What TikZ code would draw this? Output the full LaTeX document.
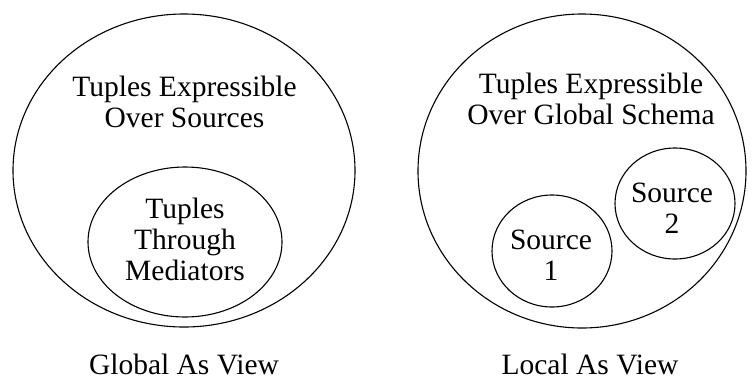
\documentclass[tikz,border=0pt]{standalone}
\usepackage{fontspec}
\setmainfont{Liberation Serif}
\begin{document}
\begin{tikzpicture}[
	x=1pt, y=-1pt,
	ring/.style={ draw, line width=1.1pt },
	label/.style={ align=center, inner sep=0pt, font=\fontsize{29.5}{31}\selectfont }
]

\useasboundingbox (0,0) rectangle (753,381);

% global as view
\begin{scope}
	\draw[ring] (184,170.5) ellipse [x radius=171, y radius=156.5];
	\draw[ring] (185,242) ellipse [x radius=97, y radius=75];
	\node[label] at (184.5,102) (gavall) {Tuples Expressible\\Over Sources};
	\node[label] at (185,239) (gavmed) {Tuples\\Through\\Mediators};
	\node[label] at (184,364) (gavname) {Global As View};
\end{scope}

% local as view
\begin{scope}
	\draw[ring] (582,171) ellipse [x radius=164, y radius=157];
	\draw[ring] (552,251) ellipse [x radius=60, y radius=56];
	\draw[ring] (675,203.5) ellipse [x radius=60, y radius=55.5];
	\node[label] at (591,99) (lavall) {Tuples Expressible\\Over Global Schema};
	\node[label] at (551,255) (lavsrca) {Source\\1};
	\node[label] at (672,208) (lavsrcb) {Source\\2};
	\node[label] at (590,364) (lavname) {Local As View};
\end{scope}

\end{tikzpicture}
\end{document}
